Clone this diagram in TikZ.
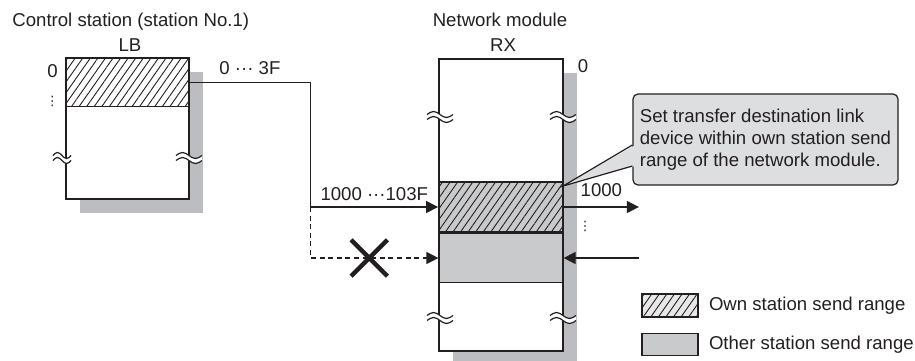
\documentclass[tikz,border=0pt]{standalone}
\usepackage{fontspec}
\setmainfont{Liberation Sans}
\newfontfamily\symfont{DejaVu Sans}
\usetikzlibrary{arrows.meta,positioning,calc,shadows,patterns.meta,shapes.misc}
\definecolor{ink}{RGB}{35,31,32}
\definecolor{shade}{RGB}{188,189,192}
\definecolor{otherfill}{RGB}{201,202,204}
\definecolor{notefill}{RGB}{221,222,223}
\definecolor{legfill}{RGB}{232,232,233}
\newcommand{\vdts}{{\symfont\fontsize{6.5}{7}\selectfont ⋮}}
\tikzset{
  membox/.style={rectangle, draw=ink, fill=white, line width=0.6pt, inner sep=0pt,
                 drop shadow={shadow xshift=7pt, shadow yshift=-7pt, fill=shade, opacity=1}},
  ownrange/.style={rectangle, draw=ink, line width=0.6pt, inner sep=0pt,
                   pattern={Lines[angle=55,distance=3.1pt,line width=0.45pt]}, pattern color=ink},
  otherrange/.style={rectangle, draw=ink, fill=otherfill, line width=0.6pt, inner sep=0pt},
  note/.style={rectangle, rounded corners=2.5pt, draw=ink, fill=notefill, line width=0.6pt,
               minimum width=132.5pt, minimum height=45.5pt, align=left, inner sep=0pt, text=ink},
  txt/.style={inner sep=0pt, text=ink},
  nogo/.style={cross out, draw=ink, line width=2.2pt, minimum size=16pt, inner sep=0pt},
  arr/.style={-{Triangle[length=6pt,width=6pt]}, line width=0.6pt, draw=ink},
  brk/.pic={
    \fill[white] (-13,-2.5) sin (-6.5,-5.5) cos (0,-2.5) sin (6.5,0.5) cos (13,-2.5)
      -- (13,2.5) sin (6.5,5.5) cos (0,2.5) sin (-6.5,-0.5) cos (-13,2.5) -- cycle;
    \draw[ink, line width=0.6pt] (-13,-2.5) sin (-6.5,-5.5) cos (0,-2.5) sin (6.5,0.5) cos (13,-2.5);
    \draw[ink, line width=0.6pt] (-13,2.5) sin (-6.5,-0.5) cos (0,2.5) sin (6.5,5.5) cos (13,2.5);
  },
}
\begin{document}
\begin{tikzpicture}[x=0.5pt, y=-0.5pt, font=\fontsize{9.3}{11.15}\selectfont]
  \useasboundingbox (0,0) rectangle (915,360);
  % control station
  \node[membox, minimum width=61.5pt, minimum height=70.5pt] (lb) at (127.5,128.5) {};
  \node[ownrange, minimum width=61.5pt, minimum height=24.5pt, below=0pt of lb.north] (lbown) {};
  \node[txt, anchor=base west] (ctrl) at (12,26.5) {Control station (station No.1)};
  \node[txt, anchor=base] (lbname) at (130,51) {LB};
  \node[txt, anchor=base] (lbzero) at (52.5,77) {0};
  \node[txt] (lbdots) at (52.5,101) {\vdts};

  % network module
  \node[membox, minimum width=62pt, minimum height=146pt] (rx) at (501,205) {};
  \node[ownrange, preaction={fill=otherfill}, line width=0.9pt,
        minimum width=62pt, minimum height=25pt] (rxown) at (501,207) {};
  \node[otherrange, minimum width=62pt, minimum height=24.5pt, below=0pt of rxown] (rxother) {};
  \node[txt, anchor=base] (netmod) at (500,26.5) {Network module};
  \node[txt, anchor=base] (rxname) at (503,51.5) {RX};
  \node[txt, anchor=base] (rxzero) at (583,72) {0};

  % transfer lines
  \coordinate (bend) at ($(lbown.east)+(121,0)$);
  \draw[ink, line width=0.6pt] (lbown.east) -- node[txt, above=3.5pt] (srclbl) {0 ··· 3F} (bend);
  \draw[arr] (bend) |- node[txt, pos=0.75, above=3pt] (dstlbl) {1000 ···103F} (rxown.west);
  \coordinate (split) at (bend |- rxown.west);
  \draw[arr, dash pattern=on 2.5pt off 1.8pt] (split) |- (rxother.west);
  \node[nogo] (cross) at ($(split |- rxother.west)!0.46!(rxother.west)$) {};

  \draw[arr] (rxown.east) -- node[txt, above=5pt] (outlbl) {1000} ++(75,0) coordinate (outend);
  \node[txt] (outdots) at (585,226) {\vdts};
  \coordinate (inend) at ($(rxother.east)+(75,0)$);
  \draw[arr] (inend) -- (rxother.east);

  % callout
  \node[note] (hint) at (765.5,139.5)
    {Set transfer destination link\\device within own station send\\range of the network module.};
  \coordinate (tip) at ($(rxown.north east)+(-1,5)$);
  \coordinate (hintup) at ($(hint.west)+(0,5.5)$);
  \coordinate (hintdn) at ($(hint.west)+(0,26.5)$);
  \fill[notefill] (tip) -- ($(hintup)+(3,0)$) -- ($(hintdn)+(3,0)$) -- cycle;
  \draw[ink, line width=0.6pt] (hintup) -- (tip) -- (hintdn);

  % legend
  \node[ownrange, preaction={fill=legfill}, minimum width=28pt, minimum height=11.5pt] (lgown) at (670,305.5) {};
  \node[otherrange, minimum width=28pt, minimum height=11pt, below=7.5pt of lgown] (lgother) {};
  \node[txt, right=5pt of lgown] (lgownlbl) {Own station send range};
  \node[txt, right=5pt of lgother] (lgotherlbl) {Other station send range};

  % break marks
  \pic[xscale=0.7] at (62,158) {brk};
  \foreach \bx/\by in {189/158, 440/117, 563/117, 440/318, 563/318}
    \pic at (\bx,\by) {brk};
\end{tikzpicture}
\end{document}
